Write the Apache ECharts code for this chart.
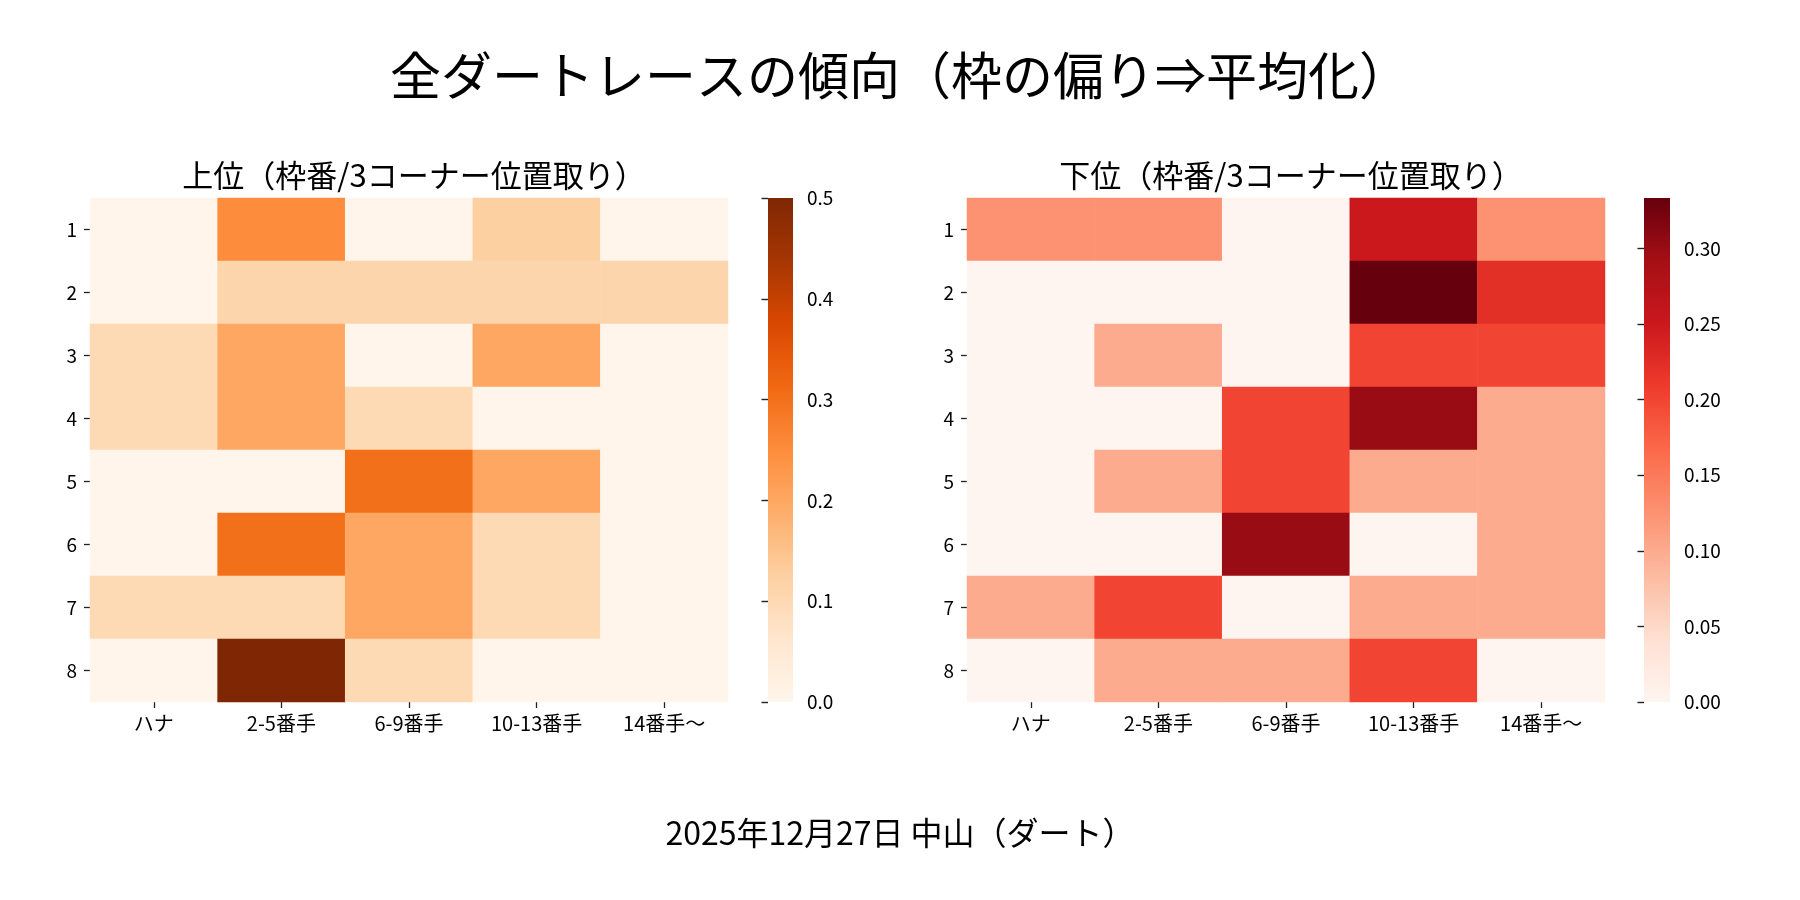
<!DOCTYPE html>
<html>
<head>
<meta charset="utf-8">
<script src="https://cdn.jsdelivr.net/npm/echarts@6/dist/echarts.min.js"></script>
<style>
html,body{margin:0;padding:0;background:#fff;}
#main{width:1800px;height:900px;}
</style>
</head>
<body>
<div id="main"></div>
<script>
// ---- data ----
const columns = ['ハナ', '2-5番手', '6-9番手', '10-13番手', '14番手〜'];
const rows = ['1', '2', '3', '4', '5', '6', '7', '8'];
// 上位（枠番/3コーナー位置取り） rows = 枠番 1..8
const upperValues = [
  [0.00, 0.25, 0.00, 0.125, 0.00],
  [0.00, 0.111, 0.111, 0.111, 0.111],
  [0.10, 0.20, 0.00, 0.20, 0.00],
  [0.10, 0.20, 0.10, 0.00, 0.00],
  [0.00, 0.00, 0.30, 0.20, 0.00],
  [0.00, 0.30, 0.20, 0.10, 0.00],
  [0.10, 0.10, 0.20, 0.10, 0.00],
  [0.00, 0.50, 0.10, 0.00, 0.00]
];
// 下位（枠番/3コーナー位置取り）
const lowerValues = [
  [0.125, 0.125, 0.00, 0.25, 0.125],
  [0.00, 0.00, 0.00, 0.333, 0.222],
  [0.00, 0.10, 0.00, 0.20, 0.20],
  [0.00, 0.00, 0.20, 0.30, 0.10],
  [0.00, 0.10, 0.20, 0.10, 0.10],
  [0.00, 0.00, 0.30, 0.00, 0.10],
  [0.10, 0.20, 0.00, 0.10, 0.10],
  [0.00, 0.10, 0.10, 0.20, 0.00]
];
const upperMax = 0.5;
const lowerMax = 1 / 3;
const upperTicks = [0, 0.1, 0.2, 0.3, 0.4, 0.5];
const lowerTicks = [0, 0.05, 0.10, 0.15, 0.20, 0.25, 0.30];
const orangesCmap = ['#fff5eb','#fee6ce','#fdd0a2','#fdae6b','#fd8d3c','#f16913','#d94801','#a63603','#7f2704'];
const redsCmap = ['#fff5f0','#fee0d2','#fcbba1','#fc9272','#fb6a4a','#ef3b2c','#cb181d','#a50f15','#67000d'];

const titleText = '全ダートレースの傾向（枠の偏り⇒平均化）';
const upperTitle = '上位（枠番/3コーナー位置取り）';
const lowerTitle = '下位（枠番/3コーナー位置取り）';
const footerText = '2025年12月27日 中山（ダート）';

function toCells(m) {
  const out = [];
  m.forEach((r, ri) => r.forEach((v, ci) => out.push([ci, ri, v])));
  return out;
}

const FONT = '"Noto Sans CJK JP", "Noto Sans", sans-serif';
const chart = echarts.init(document.getElementById('main'), null, {renderer: 'canvas'});

const L = {x: 90, y: 198, w: 638, h: 504};
const R = {x: 967, y: 198, w: 638, h: 504};
const CB1 = {x: 768, w: 25};
const CB2 = {x: 1644, w: 26};

function catX(gi) {
  return {
    type: 'category', data: columns, gridIndex: gi,
    axisLine: {show: false},
    axisTick: {show: true, alignWithLabel: true, length: 6, lineStyle: {color: '#222', width: 1.3}},
    axisLabel: {color: '#000', fontSize: 20, fontFamily: FONT, margin: 11},
    splitLine: {show: false}
  };
}
function catY(gi) {
  return {
    type: 'category', data: rows, gridIndex: gi, inverse: true,
    axisLine: {show: false},
    axisTick: {show: true, alignWithLabel: true, length: 6, lineStyle: {color: '#222', width: 1.3}},
    axisLabel: {color: '#000', fontSize: 19, fontFamily: FONT, margin: 13},
    splitLine: {show: false}
  };
}
function cbY(gi, max, ticks, digits) {
  return {
    type: 'value', gridIndex: gi, position: 'right', min: 0, max: max, z: 10,
    axisLine: {show: false},
    axisTick: {show: true, inside: true, length: 6.5, customValues: ticks, lineStyle: {color: '#222', width: 1.4}},
    axisLabel: {show: true, customValues: ticks, color: '#000', fontSize: 19, fontFamily: FONT, margin: 14,
      formatter: v => Number(v).toFixed(digits)},
    splitLine: {show: false}
  };
}
function colorbarSeries(gi, max, cmap) {
  const stops = cmap.map((c, i) => ({offset: i / (cmap.length - 1), color: c}));
  return {
    type: 'custom', xAxisIndex: gi, yAxisIndex: gi, silent: true, z: 1,
    data: [[0, max]],
    renderItem: function (params, api) {
      const p0 = api.coord([0, 0]);
      const p1 = api.coord([1, api.value(1)]);
      return {
        type: 'rect',
        shape: {x: p0[0], y: p1[1], width: p1[0] - p0[0], height: p0[1] - p1[1]},
        style: {fill: new echarts.graphic.LinearGradient(0, 1, 0, 0, stops)}
      };
    }
  };
}

chart.setOption({
  animation: false,
  backgroundColor: '#fff',
  title: [
    {text: titleText, left: 'center', top: 45, textStyle: {fontSize: 51, fontWeight: 'normal', color: '#000', fontFamily: FONT}},
    {text: upperTitle, left: L.x + L.w / 2, textAlign: 'center', top: 155, textStyle: {fontSize: 31, fontWeight: 'normal', color: '#000', fontFamily: FONT}},
    {text: lowerTitle, left: R.x + R.w / 2, textAlign: 'center', top: 155, textStyle: {fontSize: 31, fontWeight: 'normal', color: '#000', fontFamily: FONT}},
    {text: footerText, left: 'center', top: 812, textStyle: {fontSize: 32, fontWeight: 'normal', color: '#000', fontFamily: FONT}}
  ],
  grid: [
    {left: L.x, top: L.y, width: L.w, height: L.h},
    {left: R.x, top: R.y, width: R.w, height: R.h},
    {left: CB1.x, top: L.y, width: CB1.w, height: L.h},
    {left: CB2.x, top: R.y, width: CB2.w, height: R.h}
  ],
  xAxis: [
    catX(0), catX(1),
    {type: 'value', gridIndex: 2, min: 0, max: 1, show: false},
    {type: 'value', gridIndex: 3, min: 0, max: 1, show: false}
  ],
  yAxis: [
    catY(0), catY(1),
    cbY(2, upperMax, upperTicks, 1),
    cbY(3, lowerMax, lowerTicks, 2)
  ],
  visualMap: [
    {type: 'continuous', show: false, seriesIndex: 0, min: 0, max: upperMax, inRange: {color: orangesCmap}},
    {type: 'continuous', show: false, seriesIndex: 1, min: 0, max: lowerMax, inRange: {color: redsCmap}}
  ],
  series: [
    {type: 'heatmap', xAxisIndex: 0, yAxisIndex: 0, data: toCells(upperValues), itemStyle: {borderWidth: 0}, emphasis: {disabled: true}},
    {type: 'heatmap', xAxisIndex: 1, yAxisIndex: 1, data: toCells(lowerValues), itemStyle: {borderWidth: 0}, emphasis: {disabled: true}},
    colorbarSeries(2, upperMax, orangesCmap),
    colorbarSeries(3, lowerMax, redsCmap)
  ]
});
</script>
</body>
</html>
